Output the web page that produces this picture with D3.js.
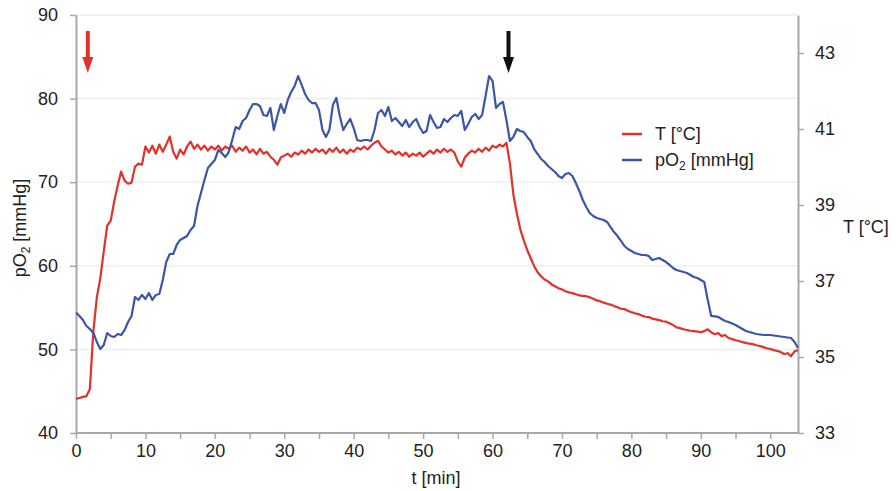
<!DOCTYPE html>
<html>
<head>
<meta charset="utf-8">
<script src="https://cdn.jsdelivr.net/npm/d3@7"></script>
<style>
  html, body { margin: 0; padding: 0; background: #fff; }
  svg { display: block; font-family: "Liberation Sans", Arial, Helvetica, sans-serif; }
</style>
</head>
<body>
<svg id="chart" width="896" height="491"></svg>
<script>
// Sampling grid of the recording (minutes)
const timeStartMin = 0;
const timeStepMin = 0.5;

// Tissue temperature, °C (right axis), one value per sample
const tempC = [
  33.90, 33.92, 33.95, 33.97, 34.16, 35.68, 36.57, 37.07, 37.78, 38.46,
  38.59, 39.09, 39.51, 39.88, 39.64, 39.56, 39.59, 40.01, 40.09, 40.06,
  40.54, 40.38, 40.56, 40.35, 40.59, 40.40, 40.59, 40.80, 40.40, 40.22,
  40.46, 40.33, 40.54, 40.67, 40.48, 40.59, 40.46, 40.56, 40.43, 40.54,
  40.46, 40.56, 40.43, 40.54, 40.48, 40.56, 40.40, 40.51, 40.43, 40.54,
  40.38, 40.46, 40.33, 40.48, 40.35, 40.40, 40.27, 40.19, 40.06, 40.25,
  40.30, 40.35, 40.27, 40.38, 40.33, 40.43, 40.35, 40.46, 40.38, 40.48,
  40.40, 40.46, 40.35, 40.48, 40.40, 40.51, 40.38, 40.46, 40.35, 40.46,
  40.40, 40.51, 40.46, 40.54, 40.46, 40.56, 40.64, 40.69, 40.54, 40.46,
  40.38, 40.43, 40.33, 40.40, 40.30, 40.38, 40.27, 40.35, 40.30, 40.38,
  40.27, 40.35, 40.43, 40.35, 40.46, 40.38, 40.48, 40.40, 40.46, 40.38,
  40.14, 40.01, 40.25, 40.35, 40.43, 40.38, 40.48, 40.40, 40.51, 40.43,
  40.56, 40.51, 40.59, 40.54, 40.64, 40.10, 39.28, 38.78, 38.36, 38.07,
  37.81, 37.60, 37.39, 37.23, 37.12, 37.04, 36.99, 36.91, 36.86, 36.81,
  36.78, 36.73, 36.70, 36.68, 36.65, 36.62, 36.61, 36.60, 36.57, 36.53,
  36.49, 36.47, 36.43, 36.40, 36.38, 36.34, 36.31, 36.27, 36.26, 36.22,
  36.18, 36.15, 36.13, 36.09, 36.06, 36.05, 36.01, 35.99, 35.97, 35.94,
  35.93, 35.89, 35.84, 35.78, 35.76, 35.73, 35.71, 35.69, 35.68, 35.67,
  35.65, 35.68, 35.73, 35.65, 35.60, 35.63, 35.55, 35.58, 35.50, 35.47,
  35.44, 35.42, 35.39, 35.37, 35.35, 35.34, 35.31, 35.29, 35.26, 35.23,
  35.21, 35.18, 35.16, 35.13, 35.08, 35.10, 35.02, 35.15, 35.18
];

// Tissue oxygen partial pressure, mmHg (left axis), one value per sample
const pO2mmHg = [
  54.41, 54.00, 53.52, 52.80, 52.44, 51.96, 50.89, 50.05, 50.53, 51.96,
  51.60, 51.48, 51.84, 51.72, 52.32, 53.28, 54.00, 56.27, 55.91, 56.51,
  56.03, 56.75, 55.91, 56.51, 56.63, 58.30, 60.45, 61.41, 61.41, 62.49,
  63.09, 63.33, 63.56, 64.28, 64.76, 67.15, 68.71, 70.26, 71.70, 72.18,
  72.66, 73.85, 73.49, 73.01, 73.61, 75.05, 76.60, 76.36, 77.32, 77.68,
  78.64, 79.35, 79.35, 79.11, 78.04, 77.92, 78.88, 76.24, 77.92, 79.35,
  78.28, 79.83, 80.79, 81.51, 82.70, 81.63, 80.55, 79.83, 79.47, 79.47,
  78.64, 76.24, 75.41, 76.24, 79.23, 80.07, 77.92, 76.24, 76.96, 77.56,
  76.48, 75.05, 74.93, 75.05, 75.05, 74.93, 76.24, 78.28, 78.64, 77.92,
  79.00, 77.32, 77.68, 77.20, 76.72, 77.44, 76.60, 77.20, 77.56, 76.60,
  75.89, 76.12, 78.04, 77.20, 76.48, 76.60, 77.56, 77.20, 77.68, 78.04,
  77.92, 78.52, 76.24, 76.96, 77.80, 78.16, 77.56, 78.04, 80.31, 82.70,
  82.11, 78.88, 79.35, 79.59, 77.44, 74.93, 75.41, 76.36, 76.12, 76.00,
  75.41, 74.93, 73.97, 73.37, 72.78, 72.42, 71.94, 71.58, 71.22, 70.74,
  70.50, 70.98, 71.10, 70.74, 69.90, 68.95, 67.87, 67.03, 66.32, 65.96,
  65.72, 65.60, 65.48, 65.24, 64.64, 64.04, 63.56, 62.97, 62.37, 62.01,
  61.77, 61.53, 61.41, 61.29, 61.29, 61.17, 60.69, 60.81, 60.93, 60.69,
  60.45, 60.10, 59.74, 59.50, 59.38, 59.26, 59.14, 58.90, 58.66, 58.54,
  58.30, 58.06, 55.91, 54.00, 53.94, 53.88, 53.64, 53.40, 53.28, 53.10,
  52.92, 52.68, 52.44, 52.20, 52.08, 51.96, 51.84, 51.78, 51.72, 51.72,
  51.72, 51.66, 51.60, 51.54, 51.48, 51.42, 51.36, 50.89, 50.17
];

// Axis ticks
const timeTicksMajor = [0, 10, 20, 30, 40, 50, 60, 70, 80, 90, 100];
const timeTicksMinor = [5, 15, 25, 35, 45, 55, 65, 75, 85, 95];
const pO2Ticks = [40, 50, 60, 70, 80, 90];
const tempTicks = [33, 35, 37, 39, 41, 43];

// Event markers: start of heating, end of heating
const eventTimesMin = [1.7, 62.3];
const eventColors = ["#e2312a", "#111111"];

const seriesNames = ["T [°C]", "pO₂ [mmHg]"];
const colorT = "#e2312a";
const colorPO2 = "#3a56a6";

(function draw() {
  const svg = d3.select("#chart");
  const plotLeft = 76, plotRight = 798, plotTop = 15, plotBottom = 433;

  const x = d3.scaleLinear().domain([0, 104]).range([plotLeft, plotRight]);
  const yL = d3.scaleLinear().domain([40, 90]).range([plotBottom, plotTop]);
  const yR = d3.scaleLinear().domain([33, 44]).range([plotBottom, plotTop]);

  const samples = tempC.map((v, i) => ({
    t: timeStartMin + i * timeStepMin,
    temp: v,
    po2: pO2mmHg[i]
  }));

  // Horizontal gridlines on the pO2 scale
  svg.append("g")
    .selectAll("line")
    .data(pO2Ticks.filter(d => d > 40))
    .join("line")
    .attr("x1", plotLeft).attr("x2", plotRight)
    .attr("y1", d => yL(d)).attr("y2", d => yL(d))
    .attr("stroke", "#f2f2f2")
    .attr("stroke-width", 2);

  const axisColor = "#a8a8a8";
  const textColor = "#222";
  function styleAxis(g) {
    g.selectAll(".domain").attr("stroke", axisColor).attr("stroke-width", 2);
    g.selectAll(".tick line").attr("stroke", axisColor).attr("stroke-width", 1.5);
    g.selectAll(".tick text").attr("fill", textColor).style("font-size", "18px");
  }

  // Bottom axis: labelled ticks every 10 min, unlabelled every 5 min
  svg.append("g")
    .attr("transform", `translate(0,${plotBottom})`)
    .call(d3.axisBottom(x).tickValues(timeTicksMajor).tickSize(6).tickSizeOuter(0).tickPadding(5))
    .call(styleAxis)
    .call(g => g.select(".domain").attr("d", `M${plotLeft},0H${plotRight}`));
  svg.append("g")
    .attr("transform", `translate(0,${plotBottom})`)
    .call(d3.axisBottom(x).tickValues(timeTicksMinor).tickSize(6).tickFormat(""))
    .call(styleAxis)
    .call(g => g.select(".domain").remove());

  // Left axis: pO2
  svg.append("g")
    .attr("transform", `translate(${plotLeft},0)`)
    .call(d3.axisLeft(yL).tickValues(pO2Ticks).tickSize(6).tickSizeOuter(0).tickPadding(12))
    .call(styleAxis);

  // Right axis: temperature
  svg.append("g")
    .attr("transform", `translate(${plotRight},0)`)
    .call(d3.axisRight(yR).tickValues(tempTicks).tickSize(6).tickSizeOuter(0).tickPadding(11))
    .call(styleAxis);

  // Data lines
  const lineT = d3.line().x(d => x(d.t)).y(d => yR(d.temp));
  const lineP = d3.line().x(d => x(d.t)).y(d => yL(d.po2));

  svg.append("path")
    .datum(samples)
    .attr("fill", "none")
    .attr("stroke", colorT)
    .attr("stroke-width", 2.2)
    .attr("stroke-linejoin", "round")
    .attr("d", lineT);

  svg.append("path")
    .datum(samples)
    .attr("fill", "none")
    .attr("stroke", colorPO2)
    .attr("stroke-width", 2.2)
    .attr("stroke-linejoin", "round")
    .attr("d", lineP);

  // Event arrows
  const arrows = svg.append("g");
  eventTimesMin.forEach((t, i) => {
    const cx = x(t);
    arrows.append("path")
      .attr("d", `M${cx - 2},31 H${cx + 2} V57 H${cx + 5.5} L${cx},73 L${cx - 5.5},57 H${cx - 2} Z`)
      .attr("fill", eventColors[i]);
  });

  // Axis titles
  const yTitle = svg.append("text")
    .attr("transform", "translate(26,228) rotate(-90)")
    .attr("text-anchor", "middle")
    .attr("fill", textColor)
    .style("font-size", "18px");
  yTitle.append("tspan").text("pO");
  yTitle.append("tspan").attr("dy", 4).style("font-size", "12px").text("2");
  yTitle.append("tspan").attr("dy", -4).text(" [mmHg]");

  svg.append("text")
    .attr("x", 436).attr("y", 484)
    .attr("text-anchor", "middle")
    .attr("fill", textColor)
    .style("font-size", "18px")
    .text("t [min]");

  svg.append("text")
    .attr("x", 843).attr("y", 233)
    .attr("fill", textColor)
    .style("font-size", "18px")
    .text("T [°C]");

  // Legend
  const legend = svg.append("g").attr("transform", "translate(622,134)");
  [colorT, colorPO2].forEach((c, i) => {
    const row = legend.append("g").attr("transform", `translate(0,${i * 26})`);
    row.append("line").attr("x1", 0).attr("x2", 20).attr("y1", 0).attr("y2", 0)
      .attr("stroke", c).attr("stroke-width", 2.5);
    const txt = row.append("text").attr("x", 33).attr("y", 6)
      .attr("fill", textColor).style("font-size", "18px");
    if (i === 0) {
      txt.text(seriesNames[0]);
    } else {
      txt.append("tspan").text("pO");
      txt.append("tspan").attr("dy", 4).style("font-size", "12px").text("2");
      txt.append("tspan").attr("dy", -4).text(" [mmHg]");
    }
  });
})();
</script>
</body>
</html>
